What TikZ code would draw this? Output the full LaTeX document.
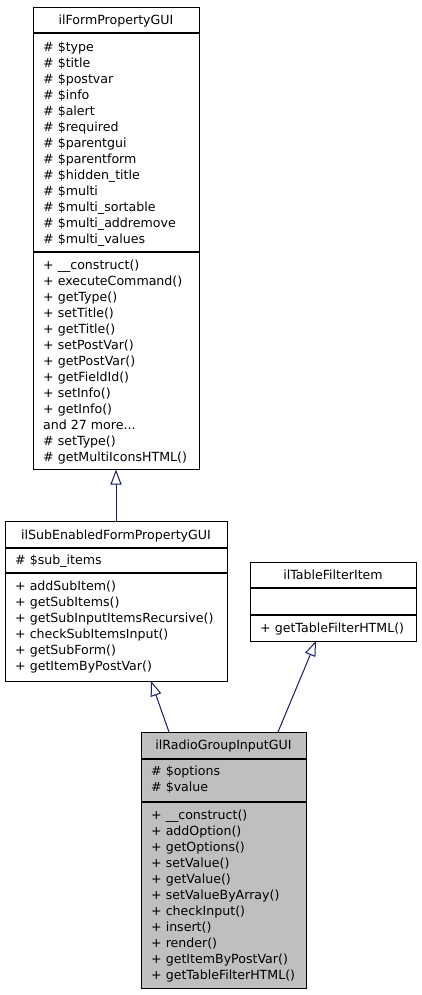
\documentclass[tikz,border=0pt]{standalone}
\usepackage{fontspec}
\setmainfont{DejaVu Sans}
\usetikzlibrary{arrows.meta}
\definecolor{edgeblue}{RGB}{25,25,112}
\definecolor{boxgray}{RGB}{191,191,191}
\newcommand{\andmore}{and 27 more...}
\tikzset{
  classbox/.style={draw=black, line width=1pt, inner sep=0pt},
  classsep/.style={draw=black, line width=1.5pt},
  classtitle/.style={anchor=base, inner sep=0pt},
  member/.style={anchor=base west, inner sep=0pt},
  inherit/.style={draw=edgeblue, line width=1pt, -{Triangle[open, length=15pt, width=11pt]}},
}
\begin{document}
\begin{tikzpicture}[x=1pt, y=-1pt, font=\fontsize{12.6}{16}\selectfont]
  \useasboundingbox (0,0) rectangle (421,995);

  % ilFormPropertyGUI
  \node (form) [classbox, minimum width=166pt, minimum height=461pt] at (116,238.5) {};
  \draw [classsep] (33,33) -- (199,33);
  \draw [classsep] (33,252) -- (199,252);
  \node (formT) [classtitle] at (116,24.5) {ilFormPropertyGUI};
  \foreach \m [count=\i from 0] in {\#~\$type, \#~\$title, \#~\$postvar, \#~\$info, \#~\$alert,
      \#~\$required, \#~\$parentgui, \#~\$parentform, \#~\$hidden\_title, \#~\$multi,
      \#~\$multi\_sortable, \#~\$multi\_addremove, \#~\$multi\_values}
    \node (formA\i) [member] at (43,{51.5+16*\i}) {\m};
  \foreach \m [count=\i from 0] in {+~\_\_construct(), +~executeCommand(), +~getType(), +~setTitle(),
      +~getTitle(), +~setPostVar(), +~getPostVar(), +~getFieldId(), +~setInfo(), +~getInfo(),
      \andmore, \#~setType(), \#~getMultiIconsHTML()}
    \node (formM\i) [member] at (43,{269.5+16*\i}) {\m};

  % ilSubEnabledFormPropertyGUI
  \node (sub) [classbox, minimum width=222pt, minimum height=160pt] at (116,601) {};
  \draw [classsep] (5,548) -- (227,548);
  \draw [classsep] (5,573) -- (227,573);
  \node (subT) [classtitle] at (116,539.5) {ilSubEnabledFormPropertyGUI};
  \node (subA0) [member] at (15,564.5) {\#~\$sub\_items};
  \foreach \m [count=\i from 0] in {+~addSubItem(), +~getSubItems(), +~getSubInputItemsRecursive(),
      +~checkSubItemsInput(), +~getSubForm(), +~getItemByPostVar()}
    \node (subM\i) [member] at (15,{590.5+16*\i}) {\m};

  % ilTableFilterItem
  \node (table) [classbox, minimum width=166pt, minimum height=79pt] at (333,601.5) {};
  \draw [classsep] (250,588) -- (416,588);
  \draw [classsep] (250,615) -- (416,615);
  \node (tableT) [classtitle] at (333,579.5) {ilTableFilterItem};
  \node (tableM0) [member] at (260,632.5) {+~getTableFilterHTML()};

  % ilRadioGroupInputGUI
  \node (radio) [classbox, fill=boxgray, minimum width=165pt, minimum height=256pt] at (223.5,860) {};
  \draw [classsep] (141,759) -- (306,759);
  \draw [classsep] (141,802) -- (306,802);
  \node (radioT) [classtitle] at (223.5,749.5) {ilRadioGroupInputGUI};
  \node (radioA0) [member] at (151,775.5) {\#~\$options};
  \node (radioA1) [member] at (151,791.5) {\#~\$value};
  \foreach \m [count=\i from 0] in {+~\_\_construct(), +~addOption(), +~getOptions(), +~setValue(),
      +~getValue(), +~setValueByArray(), +~checkInput(), +~insert(), +~render(),
      +~getItemByPostVar(), +~getTableFilterHTML()}
    \node (radioM\i) [member] at (151,{819.5+16*\i}) {\m};

  % inheritance
  \coordinate (radioL) at (169,732);
  \coordinate (radioR) at (278,732);
  \coordinate (subTip) at (151,681);
  \coordinate (tableTip) at (316,641);
  \draw [inherit] (sub.north) -- (form.south);
  \draw [inherit] (radioL) -- (subTip);
  \draw [inherit] (radioR) -- (tableTip);

\end{tikzpicture}
\end{document}
